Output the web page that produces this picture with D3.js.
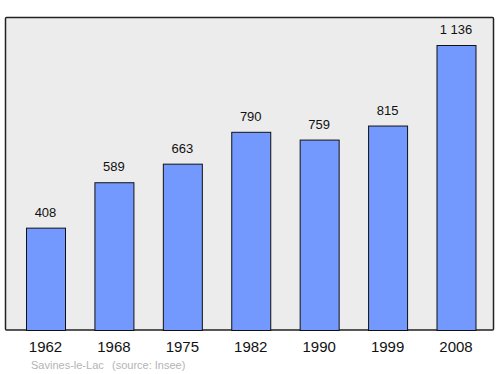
<!DOCTYPE html>
<html><head><meta charset="utf-8">
<script src="https://cdn.jsdelivr.net/npm/d3@7"></script>
<style>body{margin:0;background:#fff}svg{display:block}</style>
</head><body>
<script>
const years = ["1962","1968","1975","1982","1990","1999","2008"];
const population = [408, 589, 663, 790, 759, 815, 1136];
const valueLabels = ["408","589","663","790","759","815","1 136"];
const commune = "Savines-le-Lac";
const source = "(source: Insee)";

const W = 500, H = 374;
const svg = d3.select("body").append("svg").attr("width", W).attr("height", H);

svg.append("rect").attr("x", 5.5).attr("y", 17.5).attr("width", 488).attr("height", 312.5)
  .attr("fill", "#ececec").attr("stroke", "#222").attr("stroke-width", 1.5).attr("rx", 1);

const x = d3.scaleBand().domain(years).range([11.3, 490.2]).paddingInner(0.43).paddingOuter(0.215);
const y = d3.scaleLinear().domain([0, 1136]).range([330, 45]);

svg.selectAll("rect.bar").data(population).join("rect").attr("class", "bar")
  .attr("x", (d, i) => x(years[i]) + 0.5).attr("y", d => y(d) + 0.5)
  .attr("width", x.bandwidth()).attr("height", d => y(0) - y(d))
  .attr("fill", "#7399ff").attr("stroke", "#111").attr("stroke-width", 1);

svg.selectAll("text.val").data(population).join("text").attr("class", "val")
  .attr("x", (d, i) => x(years[i]) + x.bandwidth() / 2).attr("y", d => y(d) - 11)
  .attr("text-anchor", "middle").attr("font-family", "Liberation Sans, Arial, sans-serif")
  .attr("font-size", 13).attr("fill", "#111").text((d, i) => valueLabels[i]);

const axis = d3.axisBottom(x).tickSize(0).tickPadding(0);
const g = svg.append("g").attr("transform", "translate(0,341)").call(axis);
g.select(".domain").remove();
g.selectAll("text").attr("font-family", "Liberation Sans, Arial, sans-serif")
  .attr("font-size", 15).attr("fill", "#111").attr("dy", "0.71em");

svg.append("text").attr("x", 31).attr("y", 369).attr("font-family", "Liberation Sans, Arial, sans-serif")
  .attr("font-size", 11).attr("fill", "#b4b4b4").text(commune);
svg.append("text").attr("x", 112).attr("y", 369).attr("font-family", "Liberation Sans, Arial, sans-serif")
  .attr("font-size", 11).attr("fill", "#b4b4b4").text(source);
</script>
</body></html>
